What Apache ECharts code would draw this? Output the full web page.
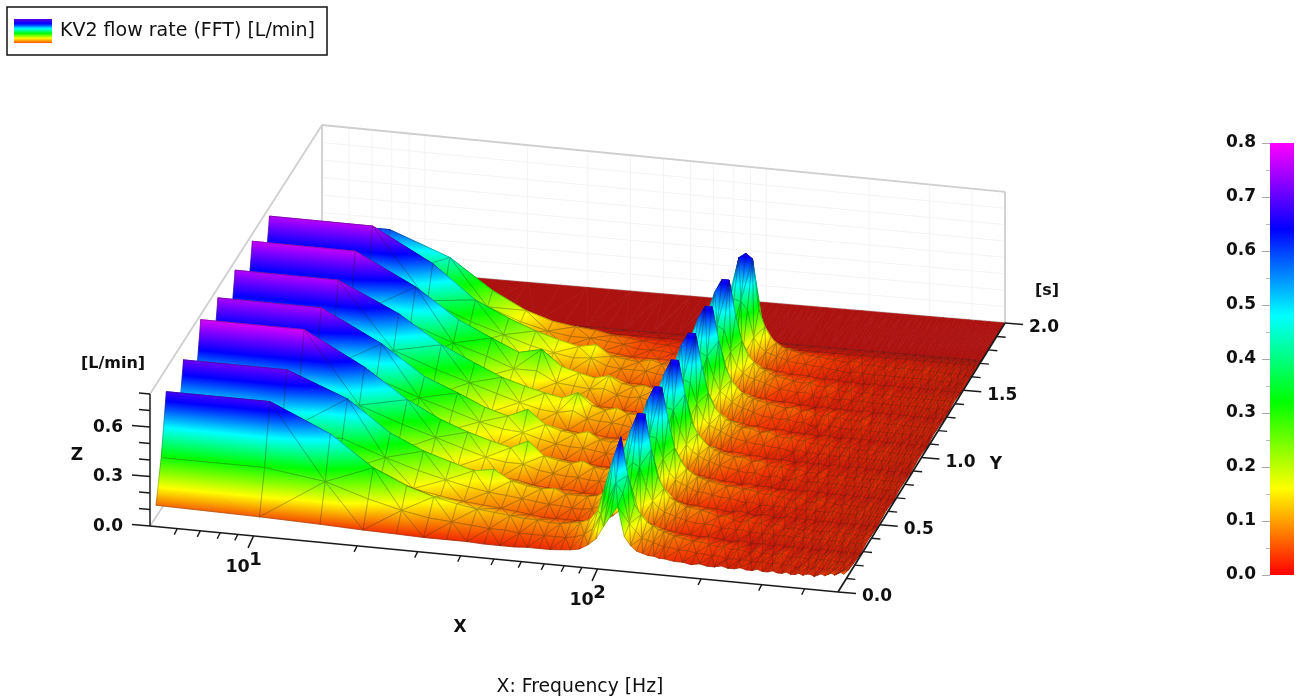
<!DOCTYPE html>
<html><head><meta charset="utf-8">
<style>html,body{margin:0;padding:0;background:#fff}#c{width:1298px;height:700px}</style>
<script src="https://cdn.jsdelivr.net/npm/echarts@6/dist/echarts.min.js"></script>
</head><body><div id="c"></div>
<script>
const seriesName='KV2 flow rate (FFT) [L/min]';
const freqs=[5,10,15,20,25,30,35,40,45,50,55,60,65,70,75,80,85,90,95,100,
105,110,115,120,125,130,135,140,145,150,
160,170,180,190,200,210,220,230,240,250,260,270,280,290,300,310,320,330,340,350,360,370,380,390,400,410,420,430,440,450,460,470,480,490,500];
const times=[.07,.13,.19,.27,.33,.39,.47,.53,.59,.67,.73,.79,.87,.93,.99,1.07,1.13,1.19,1.27,1.33,1.39,1.47,1.53,1.59,1.67,1.72,2.0];
const z07=[.07,.06,.05,.04,.035,.03,.03,.03,.025,.025,.025,.03,.03,.03,.035,.04,.05,.08,.12,.20,
.27,.33,.15,.10,.07,.06,.05,.05,.04,.04,
.03,.03,.02,.03,.02, .02,.03,.02,.02,.03, .02,.02,.03,.02,.02, .03,.02,.02,.03,.02, .02,.03,.02,.03,.03, .02,.03,.04,.03,.04, .05,.04,.05,.06,.05];
const z13=[.31,.31,.26,.18,.13,.10,.09,.08,.07,.07,.06,.06,.06,.06,.06,.07,.09,.13,.22,.32,
.42,.36,.18,.14,.10,.09,.08,.07,.06,.06,
.05,.05,.04,.04,.03, .04,.02,.03,.02,.03, .02,.02,.03,.02,.02, .03,.02,.02,.03,.01, .02,.03,.02,.01,.03, .02,.02,.01,.03,.02, .03,.02,.02,.03,.03];
const z19=[.66,.66,.50,.32,.23,.18,.15,.13,.12,.11,.10,.10,.09,.09,.10,.11,.13,.19,.36,.52,
.65,.42,.25,.19,.15,.13,.11,.10,.09,.08,
.07,.06,.06,.05,.04, .05,.03,.04,.03,.02, .04,.02,.03,.02,.03, .04,.02,.02,.02,.03, .02,.02,.03,.02,.02, .03,.02,.03,.02,.02, .02,.02,.03,.02,.02];
const z27=[.06,.06,.20,.18,.15,.12,.10,.09,.08,.07,.06,.05,.05,.05,.05,.05,.06,.07,.10,.14,
.16,.14,.09,.07,.06,.05,.05,.04,.04,.03,
.03,.02,.03,.02,.02, .01,.02,.02,.01,.01, .02,.01,.01,.02,.01, .01,.02,.01,.01,.02, .01,.01,.01,.02,.01, .01,.02,.01,.01,.01, .02,.01,.01,.01,.01];
const z33=[.36,.36,.36,.27,.21,.17,.14,.12,.11,.10,.09,.08,.08,.07,.07,.08,.10,.14,.24,.32,
.38,.36,.24,.16,.12,.10,.09,.08,.07,.06,
.05,.05,.05,.03,.04, .03,.04,.02,.03,.02, .03,.02,.02,.03,.02, .02,.03,.02,.03,.02, .02,.02,.03,.02,.02, .03,.02,.02,.03,.02, .02,.02,.02,.03,.02];
const z39=[.69,.69,.55,.37,.28,.23,.19,.21,.15,.13,.12,.13,.10,.10,.10,.11,.14,.22,.38,.52,
.63,.63,.42,.26,.19,.14,.12,.11,.09,.09,
.08,.07,.05,.06,.04, .03,.05,.03,.04,.02, .03,.04,.02,.02,.03, .02,.02,.03,.02,.02, .02,.02,.03,.02,.02, .03,.02,.02,.03,.02, .02,.02,.02,.03,.02];
const z47=[.07,.07,.22,.20,.17,.14,.12,.10,.09,.07,.06,.06,.06,.05,.05,.05,.06,.08,.11,.15,
.17,.15,.10,.07,.06,.06,.05,.04,.04,.04,
.03,.03,.02,.02,.03, .02,.01,.02,.02,.01, .01,.02,.02,.01,.02, .01,.02,.01,.01,.02, .01,.02,.01,.01,.01, .02,.01,.01,.02,.01, .01,.01,.02,.01,.01];
const z53=[.42,.42,.40,.31,.25,.20,.16,.14,.14,.11,.10,.09,.09,.08,.08,.08,.10,.15,.25,.34,
.38,.37,.25,.17,.13,.11,.10,.08,.07,.07,
.06,.05,.05,.04,.03, .04,.02,.03,.02,.03, .02,.03,.02,.02,.02, .03,.02,.02,.02,.02, .03,.02,.02,.02,.02, .02,.02,.03,.02,.02, .02,.02,.02,.02,.02];
const z59=[.77,.77,.58,.41,.31,.25,.21,.18,.23,.15,.13,.12,.14,.11,.10,.12,.16,.25,.40,.54,
.63,.63,.44,.27,.20,.15,.13,.11,.10,.09,
.08,.07,.07,.06,.06, .05,.04,.05,.03,.04, .02,.03,.04,.02,.02, .03,.04,.02,.03,.02, .02,.02,.03,.02,.02, .02,.02,.02,.03,.02, .02,.02,.02,.02,.02];
const z67=[.08,.08,.23,.21,.18,.15,.12,.10,.09,.07,.07,.06,.06,.05,.05,.05,.06,.08,.11,.16,
.18,.16,.11,.08,.07,.06,.05,.05,.04,.04,
.03,.03,.02,.03,.02, .02,.02,.01,.02,.01, .02,.01,.02,.02,.01, .02,.01,.01,.02,.01, .01,.02,.01,.01,.02, .01,.01,.01,.02,.01, .01,.02,.01,.01,.01];
const z73=[.40,.40,.40,.31,.25,.20,.17,.16,.13,.11,.10,.10,.09,.08,.08,.09,.11,.16,.25,.34,
.39,.38,.26,.18,.14,.12,.10,.09,.08,.07,
.06,.05,.04,.05,.03, .03,.04,.02,.02,.04, .02,.02,.02,.03,.02, .02,.02,.03,.02,.02, .02,.02,.02,.02,.02, .02,.03,.02,.02,.02, .01,.02,.02,.02,.02];
const z79=[.74,.74,.56,.39,.31,.24,.20,.25,.17,.14,.13,.15,.11,.10,.11,.13,.17,.26,.41,.54,
.63,.63,.43,.27,.20,.16,.13,.11,.10,.09,
.08,.08,.06,.07,.05, .04,.05,.03,.03,.04, .02,.03,.02,.04,.02, .02,.02,.03,.02,.02, .02,.03,.02,.02,.02, .02,.03,.02,.02,.02, .02,.02,.02,.02,.02];
const z87=[.08,.08,.23,.21,.18,.15,.12,.10,.09,.08,.07,.07,.06,.06,.05,.05,.07,.08,.12,.16,
.18,.16,.11,.09,.07,.06,.06,.05,.04,.04,
.04,.03,.03,.02,.02, .02,.02,.01,.02,.02, .01,.02,.01,.01,.02, .02,.01,.01,.02,.01, .02,.01,.01,.02,.01, .01,.02,.01,.01,.01, .02,.01,.01,.01,.01];
const z93=[.41,.41,.41,.32,.26,.21,.17,.14,.13,.15,.11,.10,.10,.09,.08,.09,.12,.16,.26,.35,
.40,.38,.26,.18,.14,.12,.11,.09,.08,.07,
.06,.05,.05,.04,.04, .03,.02,.04,.02,.03, .02,.03,.02,.02,.02, .03,.02,.02,.02,.02, .02,.02,.02,.02,.02, .02,.02,.02,.02,.01, .02,.02,.01,.02,.02];
const z99=[.745,.745,.58,.42,.33,.26,.22,.19,.17,.21,.14,.12,.14,.11,.11,.13,.18,.26,.42,.55,
.63,.63,.44,.28,.20,.16,.13,.12,.10,.09,
.09,.07,.08,.06,.05, .06,.04,.05,.03,.04, .02,.04,.02,.03,.02, .03,.02,.02,.02,.02, .03,.02,.02,.03,.02, .02,.02,.02,.02,.02, .02,.02,.02,.02,.02];
const z107=[.08,.08,.23,.21,.18,.15,.12,.10,.09,.08,.07,.07,.06,.06,.05,.06,.07,.08,.12,.17,
.18,.17,.11,.09,.07,.06,.06,.05,.05,.04,
.04,.03,.03,.03,.02, .02,.02,.02,.01,.02, .02,.01,.01,.02,.01, .02,.01,.02,.01,.01, .02,.01,.01,.01,.02, .01,.01,.02,.01,.01, .01,.02,.01,.01,.01];
const z113=[.42,.42,.41,.32,.26,.20,.20,.14,.13,.12,.13,.10,.09,.10,.08,.10,.13,.17,.27,.35,
.40,.38,.26,.18,.15,.12,.10,.09,.08,.07,
.05,.05,.04,.05,.03, .04,.02,.02,.04,.02, .03,.02,.02,.02,.02, .03,.02,.02,.02,.02, .02,.02,.02,.02,.02, .02,.02,.01,.02,.02, .01,.02,.02,.01,.02];
const z119=[.757,.757,.58,.41,.32,.25,.28,.19,.16,.14,.16,.12,.11,.12,.10,.12,.17,.26,.42,.55,
.63,.63,.43,.28,.20,.16,.13,.11,.10,.09,
.08,.07,.06,.07,.05, .06,.04,.03,.05,.02, .04,.02,.03,.02,.03, .04,.02,.02,.03,.02, .02,.02,.03,.02,.02, .02,.02,.02,.02,.02, .02,.02,.02,.02,.02];
const z127=[.08,.08,.22,.20,.17,.14,.12,.09,.08,.07,.07,.06,.06,.05,.05,.06,.07,.08,.12,.17,
.18,.16,.10,.08,.07,.06,.05,.05,.04,.04,
.03,.03,.03,.02,.02, .01,.02,.02,.01,.02, .01,.02,.01,.02,.02, .01,.01,.02,.01,.01, .02,.01,.01,.02,.01, .01,.01,.02,.01,.01, .01,.01,.02,.01,.01];
const z133=[.41,.41,.39,.29,.23,.18,.15,.13,.14,.10,.09,.09,.09,.08,.07,.08,.11,.16,.26,.35,
.40,.38,.25,.17,.13,.11,.10,.09,.08,.07,
.05,.05,.04,.05,.03, .02,.04,.02,.02,.03, .02,.02,.03,.02,.02, .02,.02,.02,.02,.02, .02,.02,.02,.02,.02, .02,.02,.01,.02,.02, .01,.02,.02,.01,.01];
const z139=[.747,.747,.56,.37,.28,.22,.18,.15,.17,.11,.10,.09,.11,.09,.08,.10,.14,.24,.41,.55,
.63,.63,.42,.27,.19,.15,.12,.11,.09,.08,
.07,.06,.05,.06,.04, .04,.05,.03,.02,.04, .02,.02,.03,.02,.02, .02,.03,.02,.02,.02, .02,.02,.02,.02,.02, .02,.02,.02,.02,.02, .02,.02,.02,.02,.02];
const z147=[.07,.07,.18,.16,.13,.10,.08,.07,.07,.06,.05,.05,.05,.05,.05,.05,.06,.08,.12,.17,
.18,.16,.10,.08,.06,.06,.05,.05,.04,.04,
.03,.03,.03,.02,.02, .02,.02,.01,.02,.01, .01,.01,.02,.01,.01, .01,.02,.01,.01,.01, .01,.02,.01,.01,.01, .01,.01,.02,.01,.01, .01,.01,.01,.01,.01];
const z153=[.34,.34,.31,.22,.15,.11,.09,.09,.08,.07,.05,.05,.05,.04,.05,.06,.08,.14,.22,.30,
.40,.39,.34,.18,.13,.10,.09,.08,.07,.06,
.05,.05,.04,.04,.03, .03,.02,.02,.03,.02, .02,.02,.02,.02,.02, .02,.02,.02,.02,.02, .02,.02,.02,.01,.02, .02,.01,.02,.02,.01, .02,.01,.01,.02,.01];
const z159=[.57,.57,.44,.27,.17,.12,.10,.09,.07,.06,.05,.04,.04,.03,.04,.05,.09,.17,.30,.42,
.60,.63,.60,.30,.20,.14,.11,.09,.08,.07,
.06,.05,.05,.04,.04, .03,.03,.04,.03,.02, .03,.02,.02,.03,.02, .02,.03,.02,.02,.02, .02,.03,.02,.02,.02, .02,.02,.01,.02,.02, .01,.02,.01,.01,.01];
const z167=[.01,.01,.01,.01,.01,.01,.01,.01,.01,.01,.01,.01,.01,.01,.01,.01,.02,.03,.04,.06,
.06,.05,.04,.03,.02,.02,.02,.01,.01,.01,
.01,.01,.01,.01,.01, .01,.01,.01,.01,.01, .01,.01,.01,.01,.01, .01,.01,.01,.01,.01, .01,.01,.01,.01,.01, .01,.01,.01,.01,.01, .01,.01,.01,.01,.01];
const z172=[0,0,0,0,0,0,0,0,0,0,0,0,0,0,0,0,0,0,0,0,
0,0,0,0,0,0,0,0,0,0,
0,0,0,0,0, 0,0,0,0,0, 0,0,0,0,0, 0,0,0,0,0, 0,0,0,0,0, 0,0,0,0,0, 0,0,0,0,0];
const z200=z172;
const surfaceRows=[z07,z13,z19,z27,z33,z39,z47,z53,z59,z67,z73,z79,z87,z93,z99,z107,z113,z119,z127,z133,z139,z147,z153,z159,z167,z172,z200];

const xMajorTicks=[10,100];
const xMajorExponents=['1','2'];
const xMinorTicks=[6,7,8,9,20,30,40,50,60,70,80,90,200,300,400];
const xGridTicks=[6,7,8,9,10,20,30,40,50,60,70,80,90,100,200,300,400];
const yMajorTicks=[0,.5,1,1.5,2];
const yMinorTicks=[.1,.2,.3,.4,.6,.7,.8,.9,1.1,1.2,1.3,1.4,1.6,1.7,1.8,1.9];
const zMajorTicks=[0,.3,.6];
const zMinorTicks=[.1,.2,.4,.5,.7,.8];

/* view: the 3D box mapped on the hidden plane axes */
const XMIN=Math.log10(5),XMAX=Math.log10(500),YMAX=2,ZMAX=.8;
const C00=[150,526],C10=[838,592],C01=[322,265],C11=[1005,323];
const ZS00=165,ZS10=165,ZS01=175,ZS11=164;
function project(f,t,z){
  const u=(Math.log10(f)-XMIN)/(XMAX-XMIN),v=t/YMAX;
  const mix=(a,b,c,d)=>a*(1-u)*(1-v)+b*u*(1-v)+c*(1-u)*v+d*u*v;
  const x=mix(C00[0],C10[0],C01[0],C11[0]);
  const y=mix(C00[1],C10[1],C01[1],C11[1]);
  return [x,y-z*mix(ZS00,ZS10,ZS01,ZS11)];
}
const BAR_STOPS=[[0,'#ff0000'],[.16,'#ffff00'],[.32,'#00ff00'],[.48,'#00ffff'],[.64,'#0000ff'],[.8,'#ff00ff']];
const SURF_STOPS=[[0,'#ac1210'],[.012,'#d01808'],[.04,'#f43800'],[.16,'#ffff00'],[.32,'#00ff00'],[.47,'#00ffff'],[.61,'#0000ff'],[.8,'#ff00ff']];
const surfStops=SURF_STOPS.map(s=>({offset:s[0]/ZMAX,color:s[1]}));
const barStops=BAR_STOPS.map(s=>({offset:1-s[0]/ZMAX,color:s[1]})).reverse();
function hex(c){return [1,3,5].map(i=>parseInt(c.substr(i,2),16));}
function surfColor(z){
  for(let i=1;i<SURF_STOPS.length;i++){
    if(z<=SURF_STOPS[i][0]){
      const a=SURF_STOPS[i-1],b=SURF_STOPS[i],k=(z-a[0])/(b[0]-a[0]),A=hex(a[1]),B=hex(b[1]);
      return 'rgb('+A.map((v,j)=>Math.round(v+(B[j]-v)*k)).join(',')+')';
    }
  }
  return SURF_STOPS[SURF_STOPS.length-1][1];
}
/* triangles, back to front; the first two vertices of each hold the quad's diagonal */
const triangles=[];
for(let r=times.length-2;r>=0;r--){
  for(let i=0;i<freqs.length-1;i++){
    const A=[freqs[i],times[r],surfaceRows[r][i]],B=[freqs[i+1],times[r],surfaceRows[r][i+1]],
          C=[freqs[i+1],times[r+1],surfaceRows[r+1][i+1]],D=[freqs[i],times[r+1],surfaceRows[r+1][i]];
    const diag=i>0?1:0;
    if((i+r)%2){triangles.push([...A,...C,...D,diag]);triangles.push([...C,...A,...B,diag]);}
    else{triangles.push([...D,...B,...C,diag]);triangles.push([...B,...D,...A,diag]);}
  }
}
function triFill(p,zs){
  const ax=p[1][0]-p[0][0],ay=p[1][1]-p[0][1],bx=p[2][0]-p[0][0],by=p[2][1]-p[0][1];
  const d1=zs[1]-zs[0],d2=zs[2]-zs[0],det=ax*by-ay*bx;
  if(Math.abs(det)<.01||(Math.abs(d1)<1e-6&&Math.abs(d2)<1e-6))return surfColor((zs[0]+zs[1]+zs[2])/3);
  const gx=(d1*by-d2*ay)/det,gy=(d2*ax-d1*bx)/det,g2=gx*gx+gy*gy;
  if(g2<1e-12)return surfColor((zs[0]+zs[1]+zs[2])/3);
  const s0=-zs[0]/g2,s1=(ZMAX-zs[0])/g2;
  return {type:'linear',global:true,x:p[0][0]+gx*s0,y:p[0][1]+gy*s0,x2:p[0][0]+gx*s1,y2:p[0][1]+gy*s1,colorStops:surfStops};
}
function renderTriangle(params,api){
  const v=[0,1,2,3,4,5,6,7,8].map(k=>api.value(k));
  const diag=api.value(9);
  const zs=[v[2],v[5],v[8]];
  const pts=[0,3,6].map(k=>api.coord(project(v[k],v[k+1],v[k+2])));
  const fill=triFill(pts,zs);
  const kids=[{type:'polygon',shape:{points:pts},style:{fill:fill,stroke:fill,lineWidth:.7}}];
  if(zs[0]+zs[1]+zs[2]>0)kids.push({type:'polyline',
     shape:{points:diag?[pts[0],pts[1],pts[2],pts[0]]:[pts[1],pts[2],pts[0]]},
     style:{fill:null,stroke:'rgba(25,30,15,.45)',lineWidth:.6}});
  return {type:'group',children:kids};
}
function seg(api,a,b,stroke,w){
  return {type:'line',shape:{x1:a[0],y1:a[1],x2:b[0],y2:b[1]},style:{stroke:stroke,lineWidth:w}};
}
const P=(api,f,t,z)=>api.coord(project(f,t,z));
const FONT='"DejaVu Sans",sans-serif';
function label(x,y,text,size,weight,align,vAlign){
  return {type:'text',x:x,y:y,style:{text:text,fill:'#111',font:(weight||'bold')+' '+size+'px '+FONT,textAlign:align||'center',textVerticalAlign:vAlign||'middle'}};
}
function renderBox(params,api){
  const k=[],G='#cfcfcf',F='#eeeeee';
  xGridTicks.forEach(f=>k.push(seg(api,P(api,f,2,0),P(api,f,2,ZMAX),F,.7)));
  [.1,.2,.3,.4,.5,.6,.7].forEach(z=>k.push(seg(api,P(api,5,2,z),P(api,500,2,z),F,.7)));
  k.push(seg(api,P(api,5,0,ZMAX),P(api,5,2,ZMAX),G,1.8));
  k.push(seg(api,P(api,5,0,0),P(api,5,2,0),G,1.8));
  k.push(seg(api,P(api,5,2,ZMAX),P(api,500,2,ZMAX),G,1.8));
  k.push(seg(api,P(api,5,2,0),P(api,500,2,0),G,1.8));
  k.push(seg(api,P(api,5,2,0),P(api,5,2,ZMAX),G,1.8));
  k.push(seg(api,P(api,500,2,0),P(api,500,2,ZMAX),G,1.8));
  return {type:'group',children:k};
}
function renderAxes(params,api){
  const k=[],B='#1a1a1a';
  k.push(seg(api,P(api,5,0,0),P(api,500,0,0),B,1.7));
  k.push(seg(api,P(api,500,0,0),P(api,500,2,0),B,1.7));
  k.push(seg(api,P(api,5,0,0),P(api,5,0,ZMAX),B,1.5));
  const off=(p,dx,dy)=>[p[0]+dx,p[1]+dy];
  xMinorTicks.forEach(f=>{const p=P(api,f,0,0);k.push(seg(api,p,off(p,-3,6),B,1.4));});
  xMajorTicks.forEach((f,i)=>{const p=P(api,f,0,0);k.push(seg(api,p,off(p,-5.5,12),B,1.5));
    k.push(label(p[0]-16,p[1]+32,'10',17.5));
    k.push(label(p[0]+2,p[1]+24,xMajorExponents[i],18));});
  yMinorTicks.forEach(t=>{const p=P(api,500,t,0);k.push(seg(api,p,off(p,9,.8),B,1.4));});
  yMajorTicks.forEach(t=>{const p=P(api,500,t,0);k.push(seg(api,p,off(p,18,1.5),B,1.5));
    k.push(label(p[0]+39,p[1]+5,t.toFixed(1),17));});
  zMinorTicks.forEach(z=>{const p=P(api,5,0,z);k.push(seg(api,p,off(p,-11,-1),B,1.4));});
  zMajorTicks.forEach(z=>{const p=P(api,5,0,z);k.push(seg(api,p,off(p,-18,-1.5),B,1.5));
    k.push(label(p[0]-42,p[1]+.5,z.toFixed(1),17));});
  k.push(label(113,364,'[L/min]',16));
  k.push(label(77,456,'Z',17));
  k.push(label(1047,291,'[s]',16));
  k.push(label(996,465,'Y',17));
  k.push(label(460,628,'X',17));
  k.push(label(580,687,'X: Frequency [Hz]',18.8,'normal'));
  return {type:'group',children:k};
}
const chart=echarts.init(document.getElementById('c'),null,{renderer:'canvas'});
chart.setOption({
  animation:false,backgroundColor:'#fff',
  grid:[{left:0,top:0,width:1298,height:700,show:false},
        {left:1270,top:143,width:24,height:432,show:false}],
  xAxis:[{type:'value',gridIndex:0,min:0,max:1298,show:false},
         {type:'category',gridIndex:1,data:['c'],show:false}],
  yAxis:[{type:'value',gridIndex:0,min:0,max:700,inverse:true,show:false},
         {type:'value',gridIndex:1,min:0,max:.8,interval:.1,
          axisLine:{show:false},splitLine:{show:false},
          axisTick:{show:true,length:8,lineStyle:{color:'#aaa'}},
          minorTick:{show:true,splitNumber:2,length:4,lineStyle:{color:'#bbb'}},
          axisLabel:{margin:14,color:'#111',fontFamily:'"DejaVu Sans",sans-serif',fontWeight:'bold',fontSize:17,formatter:v=>v.toFixed(1)}}],
  legend:{show:true,left:7,top:7,padding:[12,12,12,7],itemWidth:38,itemHeight:24,selectedMode:false,
    borderColor:'#111',borderWidth:1.5,borderRadius:0,
    textStyle:{fontFamily:'"DejaVu Sans",sans-serif',fontSize:19,color:'#111',padding:[0,0,0,3]},
    data:[{name:seriesName,icon:'rect',itemStyle:{color:{type:'linear',x:0,y:0,x2:0,y2:1,colorStops:[
      {offset:0,color:'#5a00e0'},{offset:.2,color:'#0000ff'},{offset:.4,color:'#00ffff'},{offset:.6,color:'#00ff00'},{offset:.8,color:'#ffff00'},{offset:1,color:'#ff5000'}]}}}]},
  series:[
    {type:'custom',name:'box',coordinateSystem:'cartesian2d',xAxisIndex:0,yAxisIndex:0,silent:true,clip:false,
     data:[[0,0]],renderItem:renderBox,z:1},
    {type:'custom',name:seriesName,coordinateSystem:'cartesian2d',xAxisIndex:0,yAxisIndex:0,silent:true,clip:false,
     progressive:0,dimensions:['f1','t1','z1','f2','t2','z2','f3','t3','z3','diag'],
     encode:{x:[],y:[]},
     data:triangles,renderItem:renderTriangle,z:2},
    {type:'custom',name:'axes',coordinateSystem:'cartesian2d',xAxisIndex:0,yAxisIndex:0,silent:true,clip:false,
     data:[[0,0]],renderItem:renderAxes,z:3},
    {type:'bar',name:'colorbar',xAxisIndex:1,yAxisIndex:1,barWidth:'100%',silent:true,data:[.8],
     itemStyle:{color:{type:'linear',x:0,y:0,x2:0,y2:1,colorStops:barStops}}}
  ]
});
</script></body></html>
